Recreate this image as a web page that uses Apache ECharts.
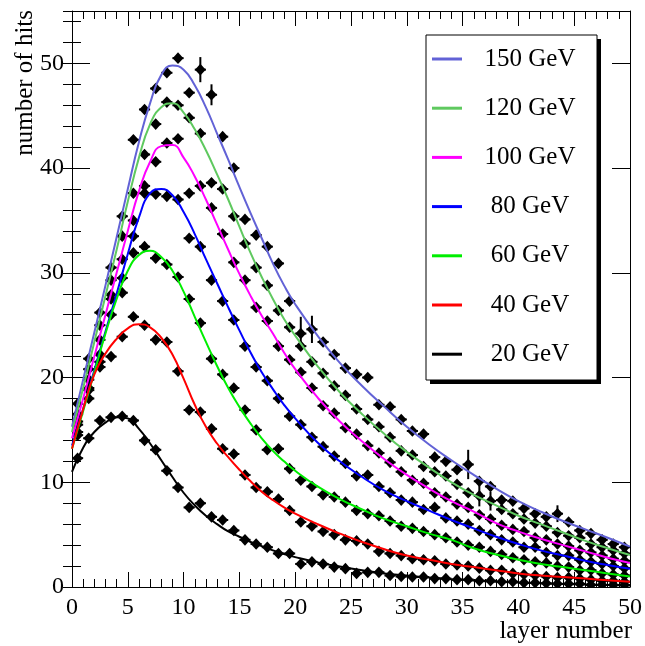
<!DOCTYPE html>
<html>
<head>
<meta charset="utf-8">
<script src="https://cdn.jsdelivr.net/npm/echarts/dist/echarts.min.js"></script>
<style>
  html, body { margin: 0; padding: 0; background: #ffffff; }
  #chart { width: 645px; height: 646px; }
</style>
</head>
<body>
<div id="chart"></div>
<script>
// Beam energies, top to bottom as listed in the legend
const ENERGIES = ['150 GeV', '120 GeV', '100 GeV', '80 GeV', '60 GeV', '40 GeV', '20 GeV'];
const COLORS = ['#6262d6', '#5fc95f', '#ff00ff', '#0000ff', '#00ee00', '#ff0000', '#000000'];

// Layer positions at which the fitted profiles are sampled
const CURVE_X = [0, 1, 2, 3, 4, 5, 6, 7, 8, 9, 10, 11, 12, 13, 14, 15, 16, 17, 18, 19, 20,
                 22, 24, 26, 28, 30, 32, 34, 36, 38, 40, 42, 44, 46, 48, 50];

// Fitted longitudinal profiles (number of hits)
const FIT_150 = [15.3, 19.8, 24.3, 28.8, 33.4, 38.0, 42.5, 46.2, 48.9, 49.8, 49.4, 47.9, 45.8, 43.3, 40.8, 38.2, 35.7, 33.3, 30.9, 28.8, 27.0,
                 24.0, 21.4, 19.2, 17.2, 15.3, 13.6, 12.1, 10.7, 9.4, 8.2, 7.2, 6.3, 5.5, 4.7, 3.85];
const FIT_120 = [14.8, 19.0, 23.4, 27.8, 32.2, 36.8, 41.0, 44.2, 45.8, 46.2, 45.3, 43.7, 41.7, 39.4, 37.0, 34.4, 31.9, 29.6, 27.5, 25.6, 24.0,
                 21.1, 18.6, 16.5, 14.6, 12.9, 11.4, 10.0, 8.8, 7.8, 6.8, 6.0, 5.2, 4.4, 3.7, 3.05];
const FIT_100 = [14.2, 18.0, 22.0, 26.0, 30.0, 34.0, 37.8, 40.6, 42.1, 42.2, 41.0, 39.2, 37.0, 34.6, 32.2, 29.9, 27.8, 25.9, 24.2, 22.4, 20.8,
                 18.1, 15.8, 13.9, 12.2, 10.7, 9.4, 8.2, 7.2, 6.1, 5.3, 4.6, 4.0, 3.4, 2.8, 2.3];
const FIT_80  = [13.5, 17.0, 20.7, 24.4, 28.0, 31.8, 35.3, 37.6, 38.0, 37.4, 35.8, 33.7, 31.3, 29.0, 26.7, 24.5, 22.4, 20.5, 18.9, 17.4, 16.1,
                 13.8, 12.0, 10.5, 9.2, 8.2, 7.3, 6.4, 5.6, 4.8, 4.1, 3.5, 3.0, 2.5, 2.1, 1.75];
const FIT_60  = [13.2, 16.8, 20.5, 24.2, 27.5, 30.2, 31.7, 32.1, 31.5, 30.2, 28.2, 25.8, 23.4, 21.1, 19.0, 17.2, 15.6, 14.2, 13.0, 12.0, 11.1,
                 9.6, 8.4, 7.4, 6.5, 5.8, 5.1, 4.5, 3.7, 3.1, 2.6, 2.2, 1.9, 1.6, 1.3, 1.0];
const FIT_40  = [13.2, 17.0, 20.3, 22.3, 23.7, 24.7, 25.1, 24.8, 23.8, 22.2, 19.9, 17.4, 15.3, 13.7, 12.4, 11.2, 10.1, 9.1, 8.3, 7.6, 7.0,
                 6.0, 5.1, 4.3, 3.6, 3.0, 2.6, 2.2, 1.9, 1.6, 1.3, 1.1, 0.95, 0.8, 0.65, 0.5];
const FIT_20  = [11.0, 13.3, 14.8, 15.7, 16.2, 16.1, 15.1, 13.7, 12.1, 10.5, 9.0, 7.8, 6.8, 6.0, 5.3, 4.8, 4.3, 3.9, 3.5, 3.15, 2.85,
                 2.35, 1.95, 1.6, 1.3, 1.1, 0.9, 0.75, 0.62, 0.5, 0.42, 0.35, 0.28, 0.23, 0.18, 0.15];

// Layer centres of the measured points
const LAYER_X = [0.5, 1.5, 2.5, 3.5, 4.5, 5.5, 6.5, 7.5, 8.5, 9.5,
                 10.5, 11.5, 12.5, 13.5, 14.5, 15.5, 16.5, 17.5, 18.5, 19.5,
                 20.5, 21.5, 22.5, 23.5, 24.5, 25.5, 26.5, 27.5, 28.5, 29.5,
                 30.5, 31.5, 32.5, 33.5, 34.5, 35.5, 36.5, 37.5, 38.5, 39.5,
                 40.5, 41.5, 42.5, 43.5, 44.5, 45.5, 46.5, 47.5, 48.5, 49.5];

// Measured mean number of hits per layer
const HITS_150 = [17.5, 21.8, 26.2, 30.5, 35.4, 42.7, 45.6, 47.6, 49.1, 50.5,
                  47.2, 49.4, 47.0, 43.0, 40.0, 35.1, 33.6, 32.5, 30.9, 27.3,
                  24.2, 24.6, 23.4, 22.2, 20.9, 20.3, 20.0, 17.4, 17.2, 16.0,
                  14.9, 14.6, 12.4, 12.0, 11.2, 11.7, 10.1, 9.6, 8.3, 8.2,
                  7.5, 7.0, 6.7, 7.0, 6.2, 5.4, 5.1, 4.5, 4.1, 3.8];
const HITS_120 = [16.5, 20.8, 25.0, 29.3, 33.5, 37.6, 41.3, 44.2, 46.3, 46.0,
                  44.8, 43.3, 38.6, 38.0, 35.4, 32.8, 30.5, 28.8, 26.4, 24.8,
                  23.0, 21.5, 20.4, 19.2, 18.3, 17.0, 16.0, 15.3, 14.3, 13.0,
                  12.6, 11.5, 11.0, 10.6, 9.8, 9.0, 8.7, 8.2, 7.4, 7.0,
                  6.5, 6.1, 5.8, 5.2, 4.9, 4.7, 4.1, 3.8, 3.5, 3.2];
const HITS_100 = [15.8, 19.8, 23.6, 27.5, 31.3, 35.0, 38.3, 40.6, 42.4, 42.8,
                  37.6, 38.3, 36.2, 33.7, 31.0, 29.3, 26.7, 25.4, 23.0, 21.7,
                  20.5, 19.0, 17.3, 16.6, 15.2, 14.6, 13.5, 12.8, 11.9, 11.0,
                  10.2, 9.9, 9.0, 8.6, 7.9, 7.6, 6.9, 6.5, 5.9, 5.5,
                  5.3, 4.7, 4.5, 4.1, 3.9, 3.5, 3.3, 3.0, 2.7, 2.5];
const HITS_80  = [14.8, 19.0, 22.2, 26.0, 29.5, 33.5, 37.6, 37.5, 37.3, 37.0,
                  33.3, 32.5, 29.3, 27.3, 25.5, 23.0, 21.0, 19.7, 18.0, 16.3,
                  15.5, 14.3, 13.4, 12.5, 11.8, 10.6, 10.7, 9.6, 9.0, 8.3,
                  8.1, 7.4, 7.6, 6.6, 6.3, 6.0, 5.4, 5.0, 4.5, 4.3,
                  3.8, 3.8, 3.3, 3.0, 3.0, 2.6, 2.4, 2.2, 2.0, 1.8];
const HITS_60  = [14.5, 18.0, 21.0, 27.9, 28.1, 31.9, 32.5, 31.4, 30.8, 29.6,
                  27.5, 25.2, 21.8, 20.3, 19.0, 16.9, 15.0, 13.1, 13.2, 11.3,
                  10.2, 9.6, 8.8, 8.6, 8.1, 7.3, 7.0, 6.8, 6.3, 5.8,
                  5.6, 5.3, 5.0, 4.7, 4.3, 4.0, 3.8, 3.4, 3.1, 2.8,
                  2.6, 2.4, 2.3, 2.0, 1.9, 1.6, 1.6, 1.3, 1.2, 1.1];
const HITS_40  = [15.5, 18.8, 21.5, 22.0, 23.9, 25.8, 25.0, 23.6, 23.4, 20.6,
                  16.9, 16.7, 15.1, 13.2, 12.7, 10.7, 9.5, 9.1, 8.4, 7.3,
                  6.2, 5.8, 5.3, 5.0, 4.5, 4.4, 4.1, 3.4, 3.2, 3.0,
                  2.7, 2.6, 2.5, 2.2, 2.1, 2.0, 1.8, 1.6, 1.6, 1.3,
                  1.2, 1.1, 1.0, 0.9, 0.9, 0.8, 0.7, 0.6, 0.6, 0.5];
const HITS_20  = [12.3, 14.2, 15.9, 16.2, 16.3, 15.9, 14.0, 13.1, 11.1, 9.5,
                  7.6, 8.0, 6.7, 6.4, 5.4, 4.5, 4.1, 3.8, 3.2, 3.2,
                  2.2, 2.4, 2.2, 1.9, 1.75, 1.3, 1.4, 1.4, 1.1, 1.0,
                  0.95, 0.95, 0.8, 0.8, 0.7, 0.7, 0.6, 0.6, 0.5, 0.5,
                  0.4, 0.4, 0.35, 0.3, 0.3, 0.3, 0.2, 0.2, 0.2, 0.2];

// Statistical uncertainty of the points; the few large ones are listed separately
const TYPICAL_ERR = 0.4;
const LARGE_ERRORS = [
  ['150 GeV', 11.5, 1.2], ['150 GeV', 12.5, 1.0], ['150 GeV', 20.5, 1.6],
  ['150 GeV', 21.5, 1.3], ['150 GeV', 35.5, 1.4], ['150 GeV', 43.5, 0.8],
  ['120 GeV', 36.5, 1.0], ['120 GeV', 37.5, 0.9]
];

const FITS = [FIT_150, FIT_120, FIT_100, FIT_80, FIT_60, FIT_40, FIT_20];
const HITS = [HITS_150, HITS_120, HITS_100, HITS_80, HITS_60, HITS_40, HITS_20];

const SERIF = "'Liberation Serif', 'Times New Roman', serif";

function errorFor(name, x) {
  const hit = LARGE_ERRORS.find(e => e[0] === name && e[1] === x);
  return hit ? hit[2] : TYPICAL_ERR;
}

// Marker with horizontal (layer width) and vertical error bars
function renderPoint(params, api) {
  const x = api.value(0), y = api.value(1), e = api.value(2);
  const c = api.coord([x, y]);
  const l = api.coord([x - 0.5, y]);
  const r = api.coord([x + 0.5, y]);
  const t = api.coord([x, y + e]);
  const b = api.coord([x, y - e]);
  const w = 5.4, h = 5.8;
  return {
    type: 'group',
    children: [
      { type: 'line', shape: { x1: l[0], y1: l[1], x2: r[0], y2: r[1] },
        style: { stroke: '#000', lineWidth: 2 } },
      { type: 'line', shape: { x1: t[0], y1: t[1], x2: b[0], y2: b[1] },
        style: { stroke: '#000', lineWidth: 2 } },
      { type: 'polygon',
        shape: { points: [[c[0], c[1] - h], [c[0] + w, c[1]], [c[0], c[1] + h], [c[0] - w, c[1]]] },
        style: { fill: '#000' } }
    ]
  };
}

const series = [];
ENERGIES.forEach((name, k) => {
  series.push({
    type: 'custom',
    name: name + ' data',
    renderItem: renderPoint,
    data: LAYER_X.map((x, i) => [x, HITS[k][i], errorFor(name, x)]),
    clip: true,
    z: 2,
    silent: true
  });
});
ENERGIES.forEach((name, k) => {
  series.push({
    type: 'line',
    name: name,
    data: CURVE_X.map((x, i) => [x, FITS[k][i]]),
    smooth: 0.5,
    showSymbol: false,
    clip: true,
    lineStyle: { color: COLORS[k], width: 2 },
    z: 3,
    silent: true
  });
});

const tickStyle = { color: '#000', width: 1 };
const baseX = {
  type: 'value', min: 0, max: 50, interval: 5,
  axisLine: { show: true, onZero: false, lineStyle: tickStyle },
  axisTick: { show: true, inside: true, length: 15, lineStyle: tickStyle },
  minorTick: { show: true, splitNumber: 5, length: 8, lineStyle: tickStyle },
  splitLine: { show: false }, minorSplitLine: { show: false }
};
const baseY = {
  type: 'value', min: 0, max: 55,
  axisLine: { show: true, onZero: false, lineStyle: tickStyle },
  splitLine: { show: false }, minorSplitLine: { show: false }
};

const option = {
  animation: false,
  backgroundColor: '#ffffff',
  grid: { left: 72, top: 11, width: 560, height: 576, containLabel: false },
  xAxis: [
    Object.assign({}, baseX, {
      position: 'bottom',
      axisLabel: { show: true, fontFamily: SERIF, fontSize: 24, color: '#000', margin: 9 }
    }),
    Object.assign({}, baseX, { position: 'top', axisLabel: { show: false } })
  ],
  yAxis: [
    Object.assign({}, baseY, {
      position: 'left', interval: 10,
      axisTick: { show: true, inside: true, length: 18, lineStyle: tickStyle },
      axisLabel: { show: true, fontFamily: SERIF, fontSize: 24, color: '#000', margin: 8,
                   formatter: v => (v % 10 === 0 ? String(v) : '') }
    }),
    Object.assign({}, baseY, {
      position: 'left', interval: 2, axisLine: { show: false },
      axisTick: { show: true, inside: true, length: 9, lineStyle: tickStyle },
      axisLabel: { show: false }
    }),
    Object.assign({}, baseY, {
      position: 'right', interval: 10,
      axisTick: { show: true, inside: true, length: 18, lineStyle: tickStyle },
      axisLabel: { show: false }
    }),
    Object.assign({}, baseY, {
      position: 'right', interval: 2, axisLine: { show: false },
      axisTick: { show: true, inside: true, length: 9, lineStyle: tickStyle },
      axisLabel: { show: false }
    })
  ],
  series: series
};

// Legend box with drop shadow
const LEG = { x: 426, y: 35, w: 171, h: 345, rowTop: 59, rowStep: 49.2 };
const legendChildren = [
  { type: 'rect', shape: { x: LEG.x + 4, y: LEG.y + 4, width: LEG.w, height: LEG.h },
    style: { fill: '#000' } },
  { type: 'rect', shape: { x: LEG.x, y: LEG.y, width: LEG.w, height: LEG.h },
    style: { fill: '#fff', stroke: '#000', lineWidth: 1 } }
];
ENERGIES.forEach((name, k) => {
  const yy = LEG.rowTop + k * LEG.rowStep;
  legendChildren.push({
    type: 'line', shape: { x1: LEG.x + 6, y1: yy, x2: LEG.x + 36, y2: yy },
    style: { stroke: COLORS[k], lineWidth: 3 }
  });
  legendChildren.push({
    type: 'text', x: 530, y: yy,
    style: { text: name, fontFamily: SERIF, fontSize: 25, fill: '#000',
             textAlign: 'center', textVerticalAlign: 'middle' }
  });
});

option.graphic = [
  { type: 'group', z: 10, children: legendChildren },
  { type: 'text', x: 632, y: 631, z: 10,
    style: { text: 'layer number', fontFamily: SERIF, fontSize: 25, fill: '#000',
             textAlign: 'right', textVerticalAlign: 'middle' } },
  { type: 'text', x: 25, y: 10, rotation: Math.PI / 2, z: 10,
    style: { text: 'number of hits', fontFamily: SERIF, fontSize: 25, fill: '#000',
             textAlign: 'right', textVerticalAlign: 'middle' } }
];

const chart = echarts.init(document.getElementById('chart'), null, { renderer: 'canvas' });
chart.setOption(option);
</script>
</body>
</html>
